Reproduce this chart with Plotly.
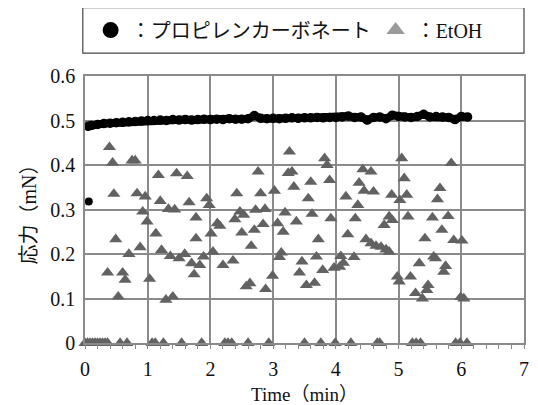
import plotly.graph_objects as go

# ---- data ----
pc_time = [0.05, 0.1, 0.2, 0.3, 0.4, 0.5, 0.6, 0.7, 0.8, 0.9, 1.0, 1.1, 1.2, 1.3, 1.4, 1.5,
           1.6, 1.7, 1.8, 1.9, 2.0, 2.1, 2.2, 2.3, 2.4, 2.5, 2.6, 2.7, 2.8, 2.9, 3.0, 3.1,
           3.2, 3.3, 3.4, 3.5, 3.6, 3.7, 3.8, 3.9, 4.0, 4.1, 4.2, 4.3, 4.4, 4.5, 4.6, 4.7,
           4.8, 4.9, 5.0, 5.1, 5.2, 5.3, 5.4, 5.5, 5.6, 5.7, 5.8, 5.9, 6.0, 6.1]
pc_stress = [0.487, 0.489, 0.491, 0.493, 0.494, 0.495, 0.496, 0.497, 0.498, 0.499, 0.500, 0.500,
             0.501, 0.500, 0.502, 0.501, 0.502, 0.501, 0.502, 0.503, 0.502, 0.503, 0.502, 0.504,
             0.503, 0.503, 0.504, 0.511, 0.505, 0.504, 0.505, 0.504, 0.505, 0.506, 0.505, 0.506,
             0.506, 0.507, 0.506, 0.507, 0.507, 0.508, 0.510, 0.507, 0.508, 0.501, 0.507, 0.508,
             0.504, 0.512, 0.509, 0.508, 0.507, 0.509, 0.514, 0.508, 0.509, 0.508, 0.507, 0.502,
             0.509, 0.508]
pc_out_time = [0.06]
pc_out_stress = [0.318]

etoh_time = [
    0.39, 0.44, 0.75, 0.80, 1.17, 1.46, 1.63, 0.46, 0.83, 0.96, 1.20, 1.33, 1.43, 1.66, 0.92,
    0.99, 1.77, 1.13, 0.49, 1.77, 0.88, 0.70, 1.22, 1.36, 1.50, 1.59, 1.70, 0.36, 0.60, 0.64,
    1.03, 1.74, 0.53, 1.29, 1.40,
    3.26, 2.76, 3.24, 3.30, 3.33, 3.02, 2.42, 2.80, 1.94, 1.98, 2.47, 2.53, 2.72, 2.87, 2.39,
    3.19, 2.11, 2.15, 2.84, 3.07, 3.37, 2.01, 2.50, 2.70, 3.16, 2.65, 2.04, 1.89, 3.13, 3.10,
    1.83, 2.20, 2.36, 2.99, 2.57, 2.63, 2.88,
    3.82, 3.86, 5.05, 4.43, 4.56, 3.60, 3.90, 5.09, 4.37, 4.45, 4.60, 3.56, 4.16, 4.89, 5.02,
    5.13, 4.35, 3.62, 3.92, 4.31, 5.15, 4.85, 4.90, 4.77, 4.19, 3.72, 4.48, 4.56, 4.64, 4.72,
    4.80, 4.85, 3.69, 4.08, 4.12, 4.06, 3.97, 4.29, 3.79, 3.46, 3.42, 3.53, 3.66, 4.98, 5.01,
    5.19,
    5.84, 5.66, 5.62, 5.54, 5.79, 5.69, 5.42, 5.88, 6.01, 5.56, 5.59, 5.33, 5.75, 5.72, 5.47,
    5.45, 5.27, 5.38, 5.99, 6.04,
    0.0, 0.04, 0.08, 0.12, 0.16, 0.20, 0.24, 0.28, 0.32, 0.36, 0.56, 0.67, 1.07, 1.12, 1.25,
    1.54, 1.86, 2.23, 2.28, 2.34, 2.60, 2.93, 3.50, 3.76, 3.99, 4.24, 4.66, 4.70, 5.22, 5.28,
    5.35, 5.91, 5.98, 6.09]
etoh_stress = [
    0.44, 0.405, 0.41, 0.41, 0.377, 0.381, 0.375, 0.335, 0.336, 0.329, 0.319, 0.301, 0.30,
    0.316, 0.295, 0.273, 0.282, 0.246, 0.233, 0.235, 0.215, 0.20, 0.209, 0.195, 0.19, 0.20,
    0.179, 0.158, 0.158, 0.142, 0.144, 0.154, 0.104, 0.097, 0.104,
    0.43, 0.385, 0.382, 0.385, 0.351, 0.342, 0.336, 0.336, 0.325, 0.31, 0.295, 0.288, 0.299,
    0.301, 0.278, 0.293, 0.269, 0.263, 0.267, 0.269, 0.273, 0.246, 0.248, 0.254, 0.25, 0.218,
    0.205, 0.194, 0.203, 0.193, 0.175, 0.175, 0.185, 0.151, 0.127, 0.134, 0.121,
    0.415, 0.40, 0.415, 0.39, 0.385, 0.362, 0.366, 0.37, 0.36, 0.342, 0.34, 0.325, 0.329,
    0.333, 0.321, 0.333, 0.31, 0.29, 0.28, 0.28, 0.284, 0.284, 0.276, 0.265, 0.244, 0.233,
    0.233, 0.224, 0.218, 0.216, 0.21, 0.205, 0.194, 0.195, 0.18, 0.171, 0.169, 0.193, 0.164,
    0.183, 0.158, 0.13, 0.135, 0.149, 0.138, 0.149,
    0.404, 0.348, 0.323, 0.282, 0.285, 0.254, 0.235, 0.231, 0.23, 0.194, 0.19, 0.179, 0.173,
    0.16, 0.13, 0.119, 0.112, 0.10, 0.103, 0.10,
    0, 0, 0, 0, 0, 0, 0, 0, 0, 0, 0, 0, 0, 0, 0, 0, 0, 0, 0, 0, 0, 0, 0, 0, 0, 0, 0, 0, 0, 0,
    0, 0, 0, 0]

x_ticks = [0, 1, 2, 3, 4, 5, 6, 7]
y_ticks = [0, 0.1, 0.2, 0.3, 0.4, 0.5, 0.6]
name_pc = "：プロピレンカーボネート"
name_etoh = "：EtOH"

FONT = "Liberation Serif, Noto Sans CJK JP, serif"
GRID = "#8a8a8a"
TRI = "#626262"

fig = go.Figure()
fig.add_trace(go.Scatter(x=etoh_time, y=etoh_stress, mode="markers", showlegend=False,
                         cliponaxis=False,
                         marker=dict(symbol="triangle-up", size=11.5, color=TRI)))
fig.add_trace(go.Scatter(x=pc_time, y=pc_stress, mode="lines+markers", showlegend=False,
                         cliponaxis=False, line=dict(color="black", width=8),
                         marker=dict(symbol="circle", size=9.5, color="black")))
fig.add_trace(go.Scatter(x=pc_out_time, y=pc_out_stress, mode="markers", showlegend=False,
                         cliponaxis=False, marker=dict(symbol="circle", size=8, color="black")))
# legend entries
fig.add_trace(go.Scatter(x=[None], y=[None], mode="markers", name=name_pc,
                         marker=dict(symbol="circle", size=16, color="black")))
fig.add_trace(go.Scatter(x=[None], y=[None], mode="markers", name=name_etoh,
                         marker=dict(symbol="triangle-up", size=16, color="#9a9a9a")))

# page body has an 8px margin, so the figure is 8px smaller and its margins shifted
fig.update_layout(
    width=530, height=397,
    margin=dict(l=77, r=14, t=68, b=62, autoexpand=False),
    paper_bgcolor="white", plot_bgcolor="white",
    font=dict(family=FONT, size=20, color="#111"),
    showlegend=True,
    legend=dict(orientation="h", x=0.465, xanchor="center", y=1.172, yanchor="middle",
                font=dict(size=20, family=FONT), bgcolor="rgba(0,0,0,0)", borderwidth=0,
                itemwidth=30),
    shapes=[dict(type="rect", xref="paper", yref="paper", x0=-0.005, x1=1.0,
                 y0=1.086, y1=1.256, line=dict(color="#444", width=1.2))],
    xaxis=dict(range=[0, 7], tickvals=x_ticks, showgrid=True, gridcolor=GRID, gridwidth=1.5,
               showline=True, linecolor=GRID, linewidth=1.5, mirror=True, zeroline=False,
               ticks="outside", ticklen=4, tickcolor=GRID, automargin=False,
               ticklabelstandoff=3,
               minor=dict(dtick=0.2, ticks="outside", ticklen=4, tickcolor=GRID, showgrid=False),
               tickfont=dict(size=20, family=FONT),
               title=dict(text="Time（min）", font=dict(size=19, family=FONT), standoff=15)),
    yaxis=dict(range=[0, 0.6], tickvals=y_ticks, showgrid=True, gridcolor=GRID, gridwidth=1.5,
               showline=True, linecolor=GRID, linewidth=1.5, mirror=True, zeroline=False,
               ticks="", tickfont=dict(size=20, family=FONT), automargin=False,
               ticklabelstandoff=4,
               title=dict(text="応力（mN）", font=dict(size=20, family=FONT), standoff=8)),
)

fig.write_html("out.html")
